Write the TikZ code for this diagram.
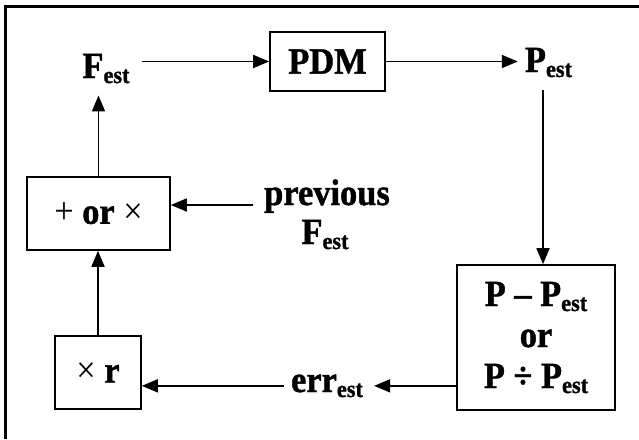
\documentclass[tikz,border=0pt]{standalone}
\usepackage{fontspec}
\setmainfont{Liberation Serif}[FakeStretch=0.93, BoldFeatures={FakeBold=1.2}]
\usetikzlibrary{arrows.meta}
\newcommand{\est}{\raisebox{-5pt}{\fontsize{24}{24}\selectfont est}}
\begin{document}
\begin{tikzpicture}[x=1pt,y=-1pt,
  lbl/.style={font=\fontsize{37}{41}\selectfont\bfseries, inner sep=0pt, anchor=base},
  boxn/.style={draw, line width=1.6pt, inner sep=0pt, font=\fontsize{37}{41}\selectfont\bfseries, align=center},
  arr/.style={line width=1.7pt, -{Triangle[length=16pt,width=13pt]}}]
\useasboundingbox (0,0) rectangle (639,439);
\draw[line width=3pt] (5.5,439) -- (5.5,6.5) -- (639,6.5);

\node[lbl] (fest) at (106,78) {F\est};
\node[boxn, minimum width=115pt, minimum height=59pt] (pdm) at (327.5,61.5) {PDM};
\node[lbl] (pest) at (548.5,72) {P\est};
\node[boxn, minimum width=158pt, minimum height=145pt] (diff) at (536,337.5) {P – P\est\\or\\P ÷ P\est};
\node[lbl] (err) at (327,392) {err\est};
\node[boxn, minimum width=86pt, minimum height=73pt] (mr) at (98,372.5) {{\mdseries ×} r};
\node[boxn, minimum width=143pt, minimum height=73pt] (orb) at (98.5,213.5) {{\mdseries +} or {\mdseries ×}};
\node[lbl] (prev) at (327,205) {previous};
\node[lbl] (prevf) at (325,244) {F\est};

\draw[arr] ([xshift=12pt]fest.east |- pdm.west) -- (pdm.west);
\draw[arr] (pdm.east) -- ([xshift=-7pt]pest.west |- pdm.east);
\draw[arr] ([xshift=-5.5pt,yshift=-13pt]pest.south) -- ([xshift=-5.5pt]pest.south |- diff.north);
\draw[arr] (diff.west |- err.east) -- ([xshift=11pt]err.east);
\draw[arr] ([xshift=-7pt]err.west) -- (mr.east |- err.west);
\draw[arr] (mr.north) -- (mr.north |- orb.south);
\draw[arr] ([xshift=-11pt]prev.base west) -- (orb.east |- prev.base west);
\draw[arr] (orb.north) -- ([yshift=-12pt]fest.south -| orb.north);
\end{tikzpicture}
\end{document}
